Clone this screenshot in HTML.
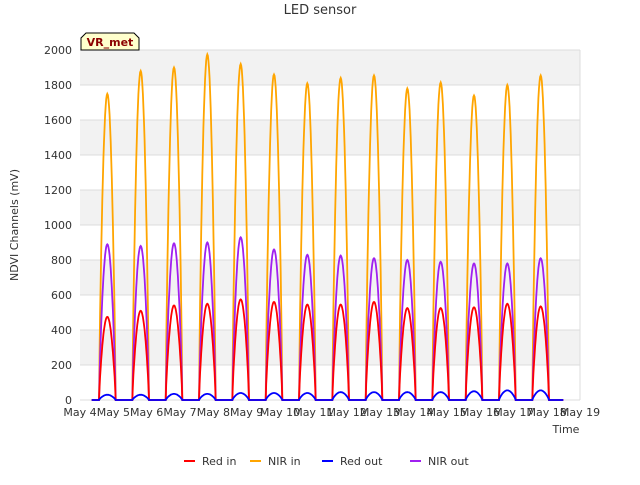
<!DOCTYPE html>
<html><head><meta charset="utf-8"><style>
body{margin:0;background:#fff;font-family:"Liberation Sans","DejaVu Sans",sans-serif;}
</style></head><body>
<svg id="chart" width="640" height="480" xmlns="http://www.w3.org/2000/svg" font-family="DejaVu Sans, Liberation Sans, sans-serif">
<rect width="640" height="480" fill="#fff"/>
<g id="bands"></g>
<g id="grid"></g>
<g id="series"></g>
<g id="axes"></g>
<text x="320" y="14" text-anchor="middle" font-size="13" fill="#333">LED sensor</text>
<text transform="translate(18,225) rotate(-90)" text-anchor="middle" font-size="11" fill="#333">NDVI Channels (mV)</text>
<text x="566" y="433" text-anchor="middle" font-size="11" fill="#333">Time</text>
<g>
<path d="M81,50 L81,38 L86,33 L134,33 L139,38 L139,50 Z" fill="#ffffcc" stroke="#000" stroke-width="1"/>
<text x="110" y="46" text-anchor="middle" font-size="11" font-weight="bold" fill="#8b0000">VR_met</text>
</g>
<g id="legend"></g>
</svg>
<script>
const dayLabels=["May 4","May 5","May 6","May 7","May 8","May 9","May 10","May 11","May 12","May 13","May 14","May 15","May 16","May 17","May 18","May 19"];
const yTicks=[0,200,400,600,800,1000,1200,1400,1600,1800,2000];
const nirInPeaks=[1750,1880,1900,1975,1920,1860,1810,1840,1855,1780,1815,1740,1800,1855];
const redInPeaks=[475,510,540,550,575,560,545,545,560,525,525,530,550,535];
const redOutPeaks=[30,30,35,35,40,40,40,45,45,45,45,50,55,55];
const nirOutPeaks=[890,880,895,900,930,860,830,825,810,800,790,780,780,810];
const NS="http://www.w3.org/2000/svg";
const X0=80,X1=580,Y0=400,Y1=50;
const xs=d=>X0+(d/15)*(X1-X0);
const ys=v=>Y0-(v/2000)*(Y0-Y1);
function mk(tag,attrs,parent){const e=document.createElementNS(NS,tag);for(const k in attrs)e.setAttribute(k,attrs[k]);parent.appendChild(e);return e;}
const bands=document.getElementById('bands'),grid=document.getElementById('grid'),axes=document.getElementById('axes'),series=document.getElementById('series'),legend=document.getElementById('legend');
mk('rect',{x:X0,y:Y1,width:X1-X0,height:Y0-Y1,fill:'#fff'},bands);
for(let i=1;i<yTicks.length;i+=2){
 const r=mk('rect',{x:X0,y:ys(yTicks[i+1]||2000),width:X1-X0,height:ys(yTicks[i])-ys(yTicks[i+1]||2000),fill:'#f2f2f2'},bands);
 
 
}
yTicks.forEach(v=>{
 const l=mk('line',{x1:X0,x2:X1,y1:ys(v),y2:ys(v),stroke:'#dcdcdc','stroke-width':1},grid);
 
 
 const t=mk('text',{x:X0-8,y:ys(v)+4,'text-anchor':'end','font-size':11,fill:'#333'},axes);
 t.textContent=v;
 
 
});
mk('line',{x1:X1,x2:X1,y1:Y1,y2:Y0,stroke:'#dcdcdc'},grid);
dayLabels.forEach((s,i)=>{
 const t=mk('text',{x:xs(i),y:416,'text-anchor':'middle','font-size':11,fill:'#333'},axes);
 t.textContent=s;
 
 
});
function build(peaks){
 const pts=[[xs(0.35),ys(0)]];
 peaks.forEach((p,i)=>{
  const s=i+0.57,e=i+1.07;
  pts.push([xs(i+0.5),ys(0)]);
  for(let k=0;k<=30;k++){const f=k/30;const d=s+f*(e-s);pts.push([xs(d),ys(p*Math.pow(Math.sin(Math.PI*f),0.8))]);}
 });
 pts.push([xs(14.5),ys(0)]);
 return pts.map(p=>p[0].toFixed(1)+','+p[1].toFixed(1)).join(' ');
}
const defs=[["nir-in-line",nirInPeaks,"#ffa500"],["nir-out-line",nirOutPeaks,"#a020f0"],["red-in-line",redInPeaks,"#ff0000"],["red-out-line",redOutPeaks,"#0000ff"]];
defs.forEach(([n,arr,c])=>{
 const p=mk('polyline',{points:build(arr),fill:'none',stroke:c,'stroke-width':1.8},series);
 
 
});
const leg=[["Red in","#ff0000",184],["NIR in","#ffa500",250],["Red out","#0000ff",322],["NIR out","#a020f0",410]];
leg.forEach(([s,c,x])=>{
 const g=mk('g',{},legend);
 
 
 mk('line',{x1:x,x2:x+11,y1:461,y2:461,stroke:c,'stroke-width':2},g);
 const t=mk('text',{x:x+18,y:465,'font-size':11,fill:'#333'},g);
 t.textContent=s;
});
</script>
</body></html>
